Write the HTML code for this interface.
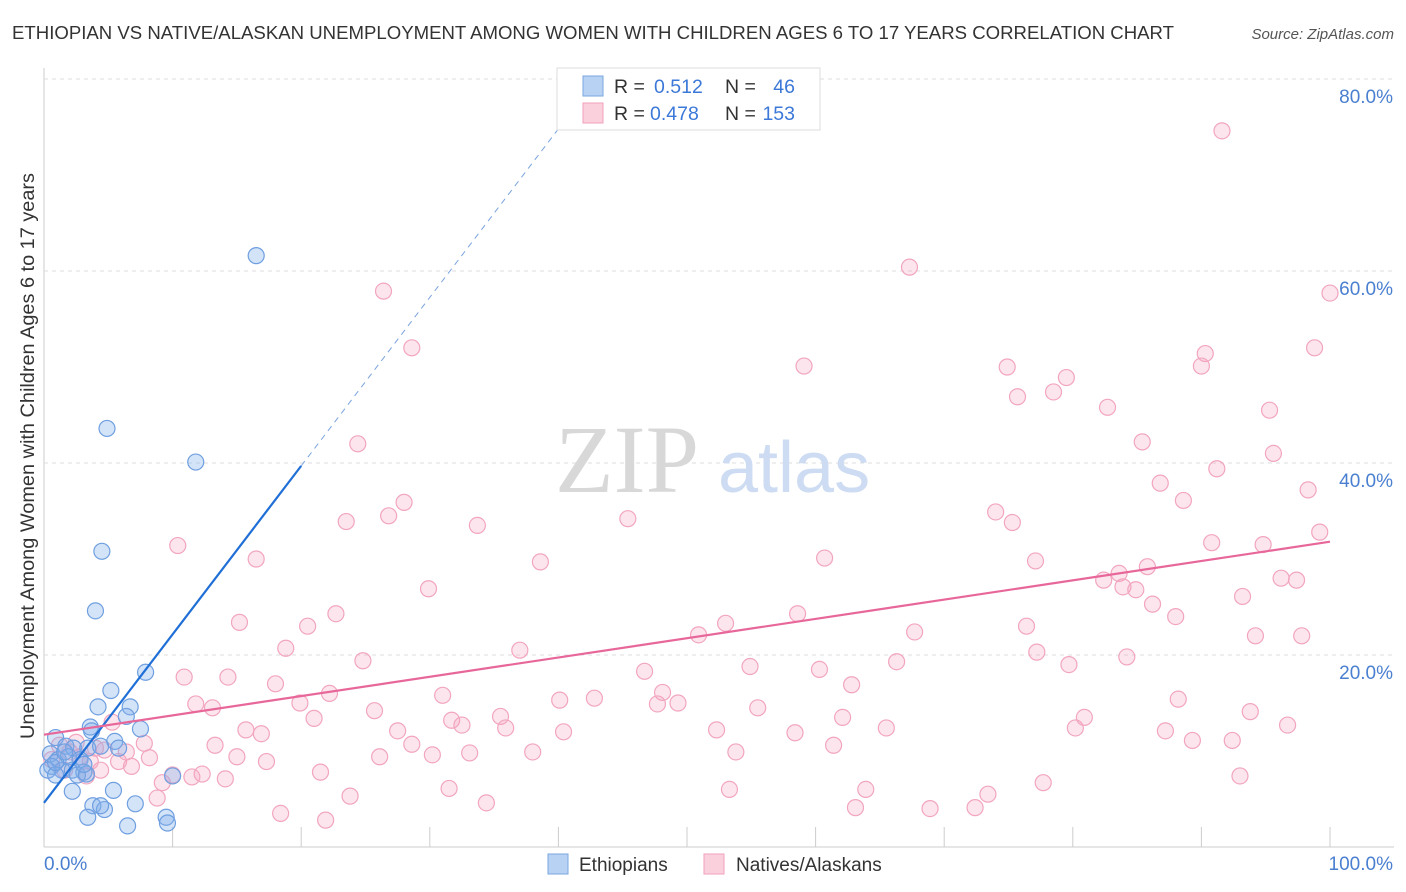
<!DOCTYPE html>
<html><head><meta charset="utf-8"><style>
body{margin:0;background:#fff;font-family:"Liberation Sans",sans-serif}
svg{display:block}
</style></head><body>
<svg id="chart" width="1406" height="892">
<text x="12" y="39" font-size="18.6" fill="#333" textLength="1162" lengthAdjust="spacingAndGlyphs">ETHIOPIAN VS NATIVE/ALASKAN UNEMPLOYMENT AMONG WOMEN WITH CHILDREN AGES 6 TO 17 YEARS CORRELATION CHART</text>
<text x="1394" y="39" font-size="15" fill="#555" font-style="italic" text-anchor="end">Source: ZipAtlas.com</text>
<text x="0" y="0" font-size="19" fill="#333" transform="translate(34,456) rotate(-90)" text-anchor="middle" textLength="566" lengthAdjust="spacingAndGlyphs">Unemployment Among Women with Children Ages 6 to 17 years</text>
<g id="grid"></g>
<text x="555" y="492" font-size="96" fill="#d8d8d8" font-family="Liberation Serif">ZIP</text>
<text x="718" y="492" font-size="72" fill="#cddcf2">atlas</text>
<g id="marks"></g>
<g id="lines"></g>
<g>
<rect x="557" y="68" width="263" height="62" fill="#fff" stroke="#ddd"/>
<rect x="583" y="76" width="20" height="20" fill="#b8d2f4" stroke="#7aa7e0"/>
<rect x="583" y="103" width="20" height="20" fill="#fbd0dd" stroke="#f0a0bb"/>
<text x="614" y="93" font-size="19.5" fill="#333">R =</text>
<text x="654" y="93" font-size="19.5" fill="#3c78d8">0.512</text>
<text x="725" y="93" font-size="19.5" fill="#333">N =</text>
<text x="795" y="93" font-size="19.5" fill="#3c78d8" text-anchor="end">46</text>
<text x="614" y="120" font-size="19.5" fill="#333">R =</text>
<text x="650" y="120" font-size="19.5" fill="#3c78d8">0.478</text>
<text x="725" y="120" font-size="19.5" fill="#333">N =</text>
<text x="795" y="120" font-size="19.5" fill="#3c78d8" text-anchor="end">153</text>
</g>
<g>
<rect x="548" y="854" width="20" height="20" fill="#b8d2f4" stroke="#7aa7e0"/>
<text x="579" y="871" font-size="19" fill="#333">Ethiopians</text>
<rect x="704" y="854" width="20" height="20" fill="#fbd0dd" stroke="#f0a0bb"/>
<text x="736" y="871" font-size="19" fill="#333">Natives/Alaskans</text>
</g>
</svg>
<script>
const xTicks=[0,10,20,30,40,50,60,70,80,90,100];
const yTicks=[20,40,60,80];
const ethX=[16.5,4.9,11.8,4.5,4.0,7.9,5.2,4.2,6.7,6.4,3.6,7.5,3.7,5.5,5.8,0.9,1.7,2.3,3.4,4.4,0.5,1.1,1.9,2.8,0.6,1.4,2.2,3.1,2.6,3.3,0.3,0.9,2.2,5.4,3.8,4.7,4.4,7.1,9.5,3.4,6.5,9.6,10.0,0.9,1.6,3.1];
const ethY=[61.6,43.6,40.1,30.8,24.6,18.2,16.3,14.6,14.6,13.6,12.5,12.3,12.1,11.0,10.3,11.4,10.5,10.3,10.3,10.5,9.7,9.1,9.4,9.1,8.4,8.0,8.0,7.8,7.5,7.6,8.0,7.5,5.8,5.9,4.3,3.9,4.3,4.5,3.1,3.1,2.2,2.5,7.4,8.8,9.9,8.6];
const natX=[91.6,67.3,100,26.4,28.6,98.8,90.3,90.0,74.9,59.1,79.5,75.7,78.5,82.7,95.3,24.4,85.4,95.6,91.2,86.8,98.3,28.0,88.6,26.8,23.5,45.4,74.0,75.3,33.7,99.2,90.8,94.8,10.4,38.6,16.5,60.7,77.1,83.6,85.8,82.4,96.2,83.9,84.9,97.4,29.9,86.2,93.2,88.0,22.7,15.2,20.5,58.6,53.0,76.4,50.9,67.7,94.2,97.8,18.8,37.0,77.2,24.8,79.7,84.2,10.9,14.3,54.9,46.7,60.3,66.3,18.0,22.2,48.1,62.8,11.8,19.9,31.0,40.1,42.8,47.7,49.3,88.2,25.7,13.1,21.0,35.5,31.7,32.5,35.9,55.5,62.1,80.9,93.8,5.3,15.7,16.9,27.5,40.4,52.3,58.4,65.5,80.2,96.7,87.2,89.3,7.8,13.3,28.6,92.4,33.1,38.0,53.8,61.4,4.7,15.0,17.3,26.1,30.2,6.4,8.2,5.8,6.8,4.4,12.3,11.5,14.1,21.5,9.2,10.0,77.7,93.0,31.5,53.3,63.9,73.4,23.8,8.8,34.4,63.1,68.9,72.4,18.4,21.9,1.2,2.0,2.8,3.6,4.0,0.6,1.6,2.5,3.3];
const natY=[74.6,60.4,57.7,57.9,52.0,52.0,51.4,50.1,50.0,50.1,48.9,46.9,47.4,45.8,45.5,42.0,42.2,41.0,39.4,37.9,37.2,35.9,36.1,34.5,33.9,34.2,34.9,33.8,33.5,32.8,31.7,31.5,31.4,29.7,30.0,30.1,29.8,28.5,29.2,27.8,28.0,27.1,26.8,27.8,26.9,25.3,26.1,24.0,24.3,23.4,23.0,24.3,23.3,23.0,22.1,22.4,22.0,22.0,20.7,20.5,20.3,19.4,19.0,19.8,17.7,17.7,18.8,18.3,18.5,19.3,17.0,16.0,16.1,16.9,14.9,15.0,15.8,15.3,15.5,14.9,15.0,15.4,14.2,14.5,13.4,13.6,13.2,12.7,12.4,14.5,13.5,13.5,14.1,13.0,12.2,11.8,12.1,12.0,12.2,11.9,12.4,12.4,12.7,12.1,11.1,10.8,10.6,10.7,11.1,9.8,9.9,9.9,10.6,10.1,9.4,8.9,9.4,9.6,9.9,9.3,8.9,8.4,8.0,7.6,7.3,7.1,7.8,6.7,7.5,6.7,7.4,6.1,6.0,6.0,5.5,5.3,5.1,4.6,4.1,4.0,4.1,3.5,2.8,10.6,9.9,9.4,8.9,10.3,9.1,8.0,10.9,7.4];
const ethLine=[4.6,1.755];
const natLine=[11.7,0.201];
const NS='http://www.w3.org/2000/svg';
const sx=v=>44+v*12.86, sy=v=>847-v*9.6;
function mk(tag,attrs,parent){const e=document.createElementNS(NS,tag);for(const k in attrs)e.setAttribute(k,attrs[k]);parent.appendChild(e);return e;}
const grid=document.getElementById('grid');
const ax=mk('line',{x1:44,y1:68,x2:44,y2:847,stroke:'#ccc'},grid);


const bx=mk('line',{x1:44,y1:847,x2:1394,y2:847,stroke:'#ccc'},grid);


yTicks.forEach(t=>{const l=mk('line',{x1:44,y1:sy(t),x2:1394,y2:sy(t),stroke:'#ddd','stroke-dasharray':'4,4'},grid);


const tx=mk('text',{x:1393,y:sy(t)+24,'font-size':19,fill:'#4a7fd0','text-anchor':'end'},grid);tx.textContent=t.toFixed(1)+'%';

});
xTicks.forEach(t=>{const l=mk('line',{x1:sx(t),y1:827,x2:sx(t),y2:847,stroke:'#ccc'},grid);

});
[[0,44,'start'],[100,1393,'end']].forEach(([t,x,a])=>{const tx=mk('text',{x:x,y:870,'font-size':19,fill:'#4a7fd0','text-anchor':a},grid);tx.textContent=t.toFixed(1)+'%';

});
const marks=document.getElementById('marks');
natX.forEach((x,i)=>{const c=mk('circle',{cx:sx(x),cy:sy(natY[i]),r:8,fill:'rgba(244,160,190,0.28)',stroke:'#f2a5bf','stroke-width':1.2},marks);

});
ethX.forEach((x,i)=>{const c=mk('circle',{cx:sx(x),cy:sy(ethY[i]),r:8,fill:'rgba(130,175,235,0.35)',stroke:'#6f9fe0','stroke-width':1.2},marks);

});
const lines=document.getElementById('lines');
const l1=mk('line',{x1:sx(0),y1:sy(ethLine[0]),x2:sx(20),y2:sy(ethLine[0]+ethLine[1]*20),stroke:'#1f6fd6','stroke-width':2.2},lines);


const l2=mk('line',{x1:sx(20),y1:sy(ethLine[0]+ethLine[1]*20),x2:sx(43),y2:sy(ethLine[0]+ethLine[1]*43),stroke:'#7aa3dd','stroke-width':1,'stroke-dasharray':'6,5'},lines);


const l3=mk('line',{x1:sx(0),y1:sy(natLine[0]),x2:sx(100),y2:sy(natLine[0]+natLine[1]*100),stroke:'#e8679a','stroke-width':2.2},lines);


</script>
</body></html>
